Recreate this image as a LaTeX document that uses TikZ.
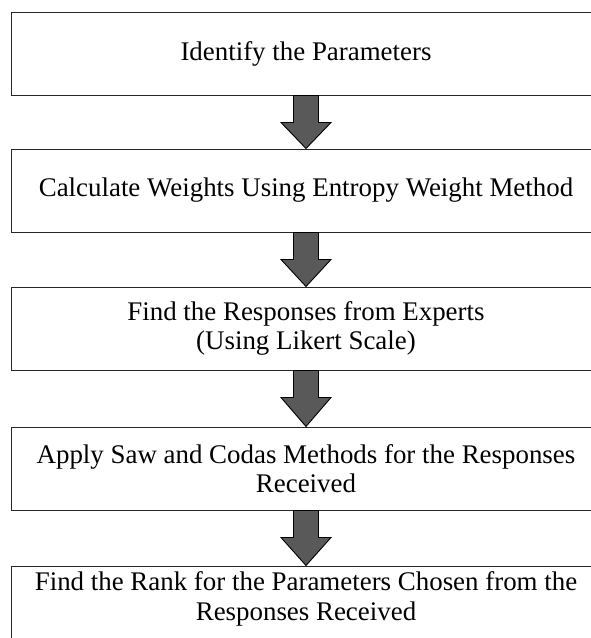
\documentclass[tikz,border=0pt]{standalone}
\usepackage{fontspec}
\setmainfont{Liberation Serif}
\usetikzlibrary{positioning,calc}
\tikzset{>=latex}
\definecolor{arrowgray}{HTML}{595959}
\tikzset{
  stepbox/.style={draw=black!85, line width=1pt, minimum width=590pt, minimum height=83pt,
    inner sep=4pt, align=center, font=\fontsize{26.9}{29.5}\selectfont},
  lastbox/.style={stepbox, minimum height=0pt, inner ysep=6pt, text depth=52pt},
  flowarr/.style={draw=black, line width=0.9pt, fill=arrowgray, line join=miter}
}
\def\flowarrow#1#2{%
  \draw[flowarr] ($(#1.south)+(-12.5pt,0)$) -- ++(0,-27pt) -- ++(-12.5pt,0) -- (#2.north)
    -- ($(#1.south)+(25pt,-27pt)$) -- ++(-12.5pt,0) -- ($(#1.south)+(12.5pt,0)$) -- cycle;}

\begin{document}
\begin{tikzpicture}[x=1pt,y=1pt]
          \useasboundingbox (0,0) rectangle (591,-638);
          \node[stepbox] (ident) at (306,-53.5) {Identify the Parameters};
          \node[stepbox, below=53pt of ident] (weights) {Calculate Weights Using Entropy Weight Method};
          \node[stepbox, below=54pt of weights] (likert) {Find the Responses from Experts\\(Using Likert Scale)};
          \node[stepbox, below=56pt of likert] (sawcodas) {Apply Saw and Codas Methods for the Responses\\Received};
          \node[lastbox, below=55pt of sawcodas] (rank) {Find the Rank for the Parameters Chosen from the\\Responses Received};

          \flowarrow{ident}{weights}
          \flowarrow{weights}{likert}
          \flowarrow{likert}{sawcodas}
          \flowarrow{sawcodas}{rank}
        \end{tikzpicture}
\end{document}
